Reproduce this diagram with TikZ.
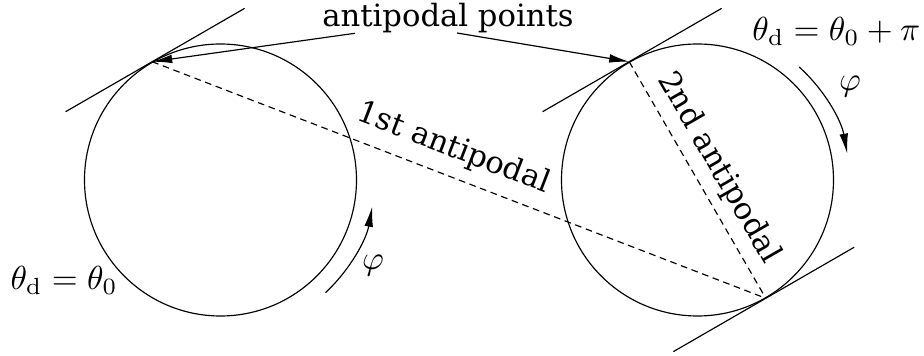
\documentclass[tikz,border=0pt]{standalone}
\usepackage{fontspec}
\newfontfamily\lblfont{DejaVu Serif}
\usetikzlibrary{arrows.meta,calc}
\begin{document}
\begin{tikzpicture}[x=0.3pt,y=-0.3pt, line width=0.35pt,
  ring/.style={circle,draw,minimum size=81.6pt,inner sep=0pt},
  tip/.style={-{Latex[length=6pt,width=2.6pt]}},
  chord/.style={dash pattern=on 2pt off 1.4pt},
  lbl/.style={inner sep=0pt, font=\lblfont\fontsize{9.2}{11}\selectfont},
  mlbl/.style={inner sep=0pt, font=\normalsize}]
\useasboundingbox (0,0) rectangle (924,356);

% circles
\node[ring] (L) at (220.5,180) {};
\node[ring] (R) at (697.5,180) {};

% tangent lines
\draw ([shift={(210:30pt)}]L.120) -- ([shift={(30:32pt)}]L.120);
\draw ([shift={(210:30pt)}]R.120) -- ([shift={(30:32pt)}]R.120);
\draw ([shift={(210:32pt)}]R.-60) -- ([shift={(30:30.6pt)}]R.-60);

% antipodal chords
\draw[chord] (L.120) -- node[lbl, sloped, above=3.6pt, pos=0.475] (first) {1st antipodal} (R.-60);
\draw[chord] (R.120) -- node[lbl, sloped, above=2.7pt, pos=0.5] (second) {2nd antipodal} (R.-60);

% title and arrows
\node[lbl, anchor=base] (ap) at (448,26.7) {antipodal points};
\coordinate (s1) at (355,33.3);
\coordinate (s2) at (457,33);
\draw[tip] (s1) -- (L.120);
\draw[tip] (s2) -- (R.120);

% phi arcs
\draw[tip] ([shift={(47:154)}]L.center) arc[start angle=47, end angle=10, radius=154];
\draw[tip] ([shift={(-48:152)}]R.center) arc[start angle=-48, end angle=-10, radius=152];
\node[mlbl] (phiL) at (373,266) {$\varphi$};
\node[mlbl] (phiR) at (850,87) {$\varphi$};

% theta labels
\node[mlbl, anchor=base west] (thL) at (10,290) {$\theta_{\mathrm{d}} = \theta_0$};
\node[mlbl, anchor=base east] (thR) at (921,41) {$\theta_{\mathrm{d}} = \theta_0 + \pi$};
\end{tikzpicture}
\end{document}
